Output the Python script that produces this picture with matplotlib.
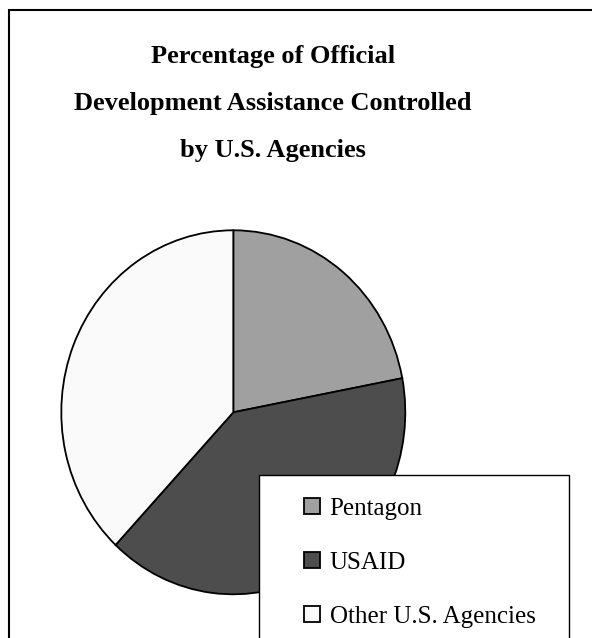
import matplotlib
matplotlib.use("Agg")
import matplotlib.pyplot as plt
from matplotlib.patches import Rectangle

# data
labels = ["Pentagon", "USAID", "Other U.S. Agencies"]
shares = [22, 40, 38]
colors = ["#a0a0a0", "#4d4d4d", "#fafafa"]

title_lines = ["Percentage of Official",
               "Development Assistance Controlled",
               "by U.S. Agencies"]

plt.rcParams["font.family"] = ["Liberation Serif", "DejaVu Serif"]

W, H = 592, 638
fig = plt.figure(figsize=(W / 100, H / 100), dpi=100)

# outer frame (runs off the right and bottom edges)
fig.patches.append(Rectangle((9 / W, -0.1), 1.2, 1 - 10 / H + 0.1,
                             transform=fig.transFigure, fill=False,
                             edgecolor="black", linewidth=1.5))

for i, line in enumerate(title_lines):
    fig.text(273 / W, 1 - (63 + 47 * i) / H, line, ha="center",
             va="baseline", fontsize=19, fontweight="bold")

# pie, a bit taller than wide like the original
ax = fig.add_axes([61.3 / W, 1 - 594.3 / H, 344 / W, 364 / H])
wedges, _ = ax.pie(shares, colors=colors, startangle=90, counterclock=False,
                   wedgeprops=dict(edgecolor="black", linewidth=1.3))
ax.set_aspect("auto")
ax.set_xlim(-1, 1)
ax.set_ylim(-1, 1)
ax.axis("off")

# legend box
fig.patches.append(Rectangle((259 / W, -0.1), 310 / W, 1 - 475 / H + 0.1,
                             transform=fig.transFigure, facecolor="white",
                             edgecolor="black", linewidth=1.0, zorder=5))
leg = fig.legend(wedges, labels, loc="upper left",
                 bbox_to_anchor=(304 / W, 1 - 498 / H),
                 frameon=False, fontsize=18, handlelength=0.62,
                 handleheight=0.62, handletextpad=0.4, labelspacing=1.28,
                 borderpad=0, borderaxespad=0)
leg.set_zorder(6)

fig.savefig("out.png", dpi=100, facecolor="white")
